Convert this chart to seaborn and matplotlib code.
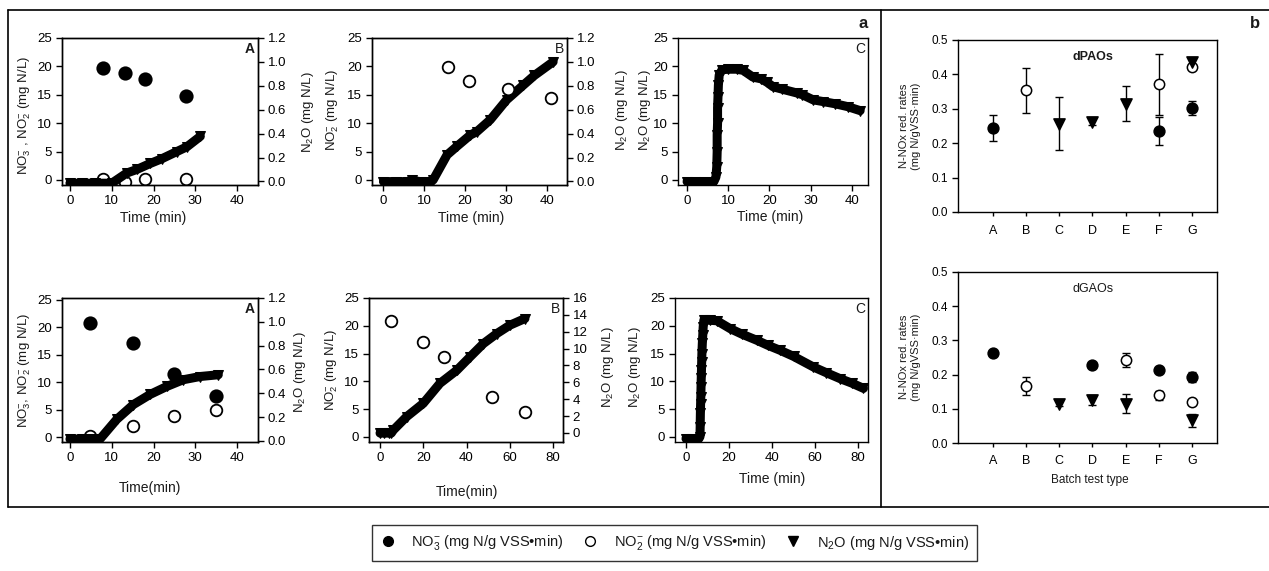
import numpy as np
import matplotlib
matplotlib.use("Agg")
import matplotlib.pyplot as plt
from matplotlib.lines import Line2D
from matplotlib.patches import Rectangle
from matplotlib.ticker import FormatStrFormatter
import seaborn as sns

sns.set_theme(style="ticks", context="paper")
plt.rcParams['font.family'] = ['Liberation Sans', 'DejaVu Sans']
plt.rcParams['mathtext.fontset'] = 'custom'
plt.rcParams['mathtext.rm'] = 'Liberation Sans'
plt.rcParams['mathtext.it'] = 'Liberation Sans:italic'
plt.rcParams['mathtext.bf'] = 'Liberation Sans:bold'
plt.rcParams['axes.edgecolor'] = 'black'
plt.rcParams['axes.linewidth'] = 1.0
plt.rcParams['xtick.color'] = 'black'
plt.rcParams['ytick.color'] = 'black'
plt.rcParams['text.color'] = '#1a1a1a'

# ---------------- data: panel a, top row (time in min, mg N/L) ----------------
top_a_t_no3 = [8.0, 13.2, 18.0, 27.8]
top_a_no3 = [19.7, 18.9, 17.7, 14.7]
top_a_t_no2 = [8.0, 13.2, 18.0, 27.8]
top_a_no2 = [0.2, -0.3, 0.2, 0.2]
top_a_t_n2o = [0, 3, 6, 10, 13.6, 16, 19.2, 22, 25.6, 28, 31.2]
top_a_n2o = [-0.015, -0.015, -0.015, -0.015, 0.07, 0.10, 0.15, 0.19, 0.25, 0.29, 0.377]

top_b_t_no2 = [15.9, 21.0, 30.6, 41.1]
top_b_no2 = [19.9, 17.4, 16.0, 14.5]
top_b_t_n2o = [0, 3, 6, 7, 9, 11.5, 12.2, 15.6, 18.0, 21.3, 22.9, 26.2, 30.2, 34.3, 37.0, 41.6]
top_b_n2o = [-0.3, -0.3, -0.3, -0.1, -0.3, -0.3, 0.0, 4.4, 5.9, 7.9, 8.5, 10.6, 14.1, 16.7, 18.4, 20.8]

top_c_t_n2o = [0, 2, 4, 6.5, 7.0, 7.2, 7.3, 7.3, 7.4, 7.4, 7.5, 7.6, 7.8, 8.5, 10, 12,
               13.6, 16, 18, 19.4, 20.9, 23, 26.7, 28, 30.6, 33, 36, 39, 42]
top_c_n2o = [-0.3, -0.3, -0.3, -0.3, 0.5, 2.3, 4.9, 7.9, 10.0, 12.7, 14.6, 16.7, 18.5, 19.4, 19.5, 19.5,
             19.3, 18.1, 17.8, 17.2, 16.4, 16.0, 15.3, 15.0, 14.1, 13.8, 13.4, 12.9, 12.2]

# ---------------- data: panel a, bottom row ----------------
bot_a_t_no3 = [4.8, 15.1, 24.8, 35.0]
bot_a_no3 = [20.7, 17.1, 11.4, 7.5]
bot_a_t_no2 = [4.8, 15.1, 24.8, 35.0]
bot_a_no2 = [0.2, 2.0, 3.8, 5.0]
bot_a_t_n2o = [0, 3, 5, 7.2, 11.2, 15.2, 19.2, 23.2, 27.1, 31.1, 35.5]
bot_a_n2o = [0.015, 0.015, 0.015, 0.015, 0.18, 0.305, 0.39, 0.457, 0.513, 0.54, 0.555]

bot_b_t_no2 = [4.9, 19.7, 29.6, 51.6, 66.8]
bot_b_no2 = [20.9, 17.0, 14.3, 7.25, 4.55]
bot_b_t_n2o = [0, 2, 4, 5.2, 6.2, 12.3, 20, 27.7, 35.5, 41.6, 47.8, 54, 60, 67]
bot_b_n2o = [0.7, 0.7, 0.7, 0.7, 1.26, 3.65, 6.05, 9.65, 12.0, 14.4, 16.8, 18.6, 20.1, 21.3]

bot_c_t_n2o = [0, 3, 6, 6.5, 6.6, 6.7, 6.8, 6.9, 7.0, 7.1, 7.2, 7.3, 7.4, 7.6, 7.8, 8.0, 8.3,
               8.8, 11, 14.4, 20.5, 26, 32.9, 38, 43.7, 50, 59.2, 65, 71.6, 77, 82.5]
bot_c_n2o = [-0.3, -0.3, -0.3, 0.05, 1.85, 4.3, 6.0, 7.25, 9.05, 10.6, 12.05, 13.5, 15.0, 16.85, 18.3, 19.8, 21.0,
             21.0, 21.0, 20.9, 19.5, 18.5, 17.4, 16.5, 15.6, 14.5, 12.6, 11.6, 10.5, 9.7, 8.75]

# ---------------- data: panel b (mg N/g VSS.min) ----------------
cats = ["A", "B", "C", "D", "E", "F", "G"]
nan = np.nan
pao_no3 = [0.245, nan, nan, nan, nan, 0.235, 0.303]
pao_no3_err = [0.038, nan, nan, nan, nan, 0.040, 0.020]
pao_no2 = [nan, 0.354, nan, nan, nan, 0.371, 0.422]
pao_no2_err = [nan, 0.066, nan, nan, nan, 0.088, 0.0]
pao_n2o = [nan, nan, 0.257, 0.262, 0.315, nan, 0.437]
pao_n2o_err = [nan, nan, 0.077, 0.008, 0.050, nan, 0.008]

gao_no3 = [0.264, nan, nan, 0.229, nan, 0.214, 0.193]
gao_no3_err = [0.005, nan, nan, 0.005, nan, 0.005, 0.015]
gao_no2 = [nan, 0.167, nan, nan, 0.242, 0.139, 0.120]
gao_no2_err = [nan, 0.026, nan, nan, 0.020, 0.012, 0.0]
gao_n2o = [nan, nan, 0.115, 0.125, 0.115, nan, 0.066]
gao_n2o_err = [nan, nan, 0.008, 0.015, 0.027, nan, 0.020]

legend_labels = [r"NO$_3^{-}$ (mg N/g VSS•min)", r"NO$_2^{-}$ (mg N/g VSS•min)",
                 r"N$_2$O (mg N/g VSS•min)"]

W, H = 1269, 571
fig = plt.figure(figsize=(W / 100, H / 100), dpi=100)
fig.patch.set_facecolor("white")


def px_axes(l, t, r, b):
    return fig.add_axes([l / W, 1 - b / H, (r - l) / W, (b - t) / H])


def px_text(x, y, s, **kw):
    kw.setdefault("ha", "center")
    kw.setdefault("va", "center")
    fig.text(x / W, 1 - y / H, s, **kw)


def px_line(x0, y0, x1, y1, lw=1.2):
    fig.add_artist(Line2D([x0 / W, x1 / W], [1 - y0 / H, 1 - y1 / H], transform=fig.transFigure,
                          color="black", linewidth=lw))


def trace(ax, t, v):
    sns.lineplot(x=t, y=v, ax=ax, color="black", lw=6.5, marker="v", markersize=7,
                 markeredgecolor="black", estimator=None, sort=False, zorder=3)


def points(ax, t, v, filled, s=80):
    sns.scatterplot(x=t, y=v, ax=ax, marker="o", s=s, color="black" if filled else "white",
                    edgecolor="black", linewidth=1.3, zorder=4)


def time_axis(ax, xlim, xticks, ylim):
    ax.set_xlim(xlim)
    ax.set_xticks(xticks)
    ax.set_ylim(ylim)
    ax.set_yticks([0, 5, 10, 15, 20, 25])
    ax.tick_params(direction="out", length=4, width=1, labelsize=9.5, pad=3)
    for sp in ax.spines.values():
        sp.set_visible(True)


def right_axis(ax, ylim, ticks, fmt):
    tw = ax.twinx()
    tw.set_ylim(ylim)
    tw.set_yticks(ticks)
    tw.yaxis.set_major_formatter(FormatStrFormatter(fmt))
    tw.tick_params(direction="out", length=4, width=1, labelsize=9.5, pad=3)
    return tw


ticks12 = [0.0, 0.2, 0.4, 0.6, 0.8, 1.0, 1.2]
lab_kw = dict(rotation=90, fontsize=9.5)

# ---- top A
ax = px_axes(62, 38, 258, 185)
points(ax, top_a_t_no3, top_a_no3, True)
points(ax, top_a_t_no2, top_a_no2, False, s=70)
time_axis(ax, (-1.9, 45), [0, 10, 20, 30, 40], (-0.9, 25))
tw = right_axis(ax, (-0.03, 1.2), ticks12, "%.1f")
trace(tw, top_a_t_n2o, top_a_n2o)
ax.text(0.985, 0.97, "A", transform=ax.transAxes, ha="right", va="top", fontsize=10, fontweight="bold")
px_text(25, 116, r"NO$_3^{-}$ , NO$_2^{-}$ (mg N/L)", **lab_kw)
px_text(153, 218, "Time (min)", fontsize=10)

# ---- top B
ax = px_axes(372, 38, 567, 185)
trace(ax, top_b_t_n2o, top_b_n2o)
points(ax, top_b_t_no2, top_b_no2, False, s=70)
time_axis(ax, (-2.8, 45), [0, 10, 20, 30, 40], (-0.9, 25))
right_axis(ax, (-0.03, 1.2), ticks12, "%.1f")
ax.text(0.985, 0.97, "B", transform=ax.transAxes, ha="right", va="top", fontsize=10)
px_text(308, 112, r"N$_2$O (mg N/L)", **lab_kw)
px_text(333, 110, r"NO$_2^{-}$ (mg N/L)", **lab_kw)
px_text(471, 218, "Time (min)", fontsize=10)

# ---- top C
ax = px_axes(678, 38, 868, 185)
trace(ax, top_c_t_n2o, top_c_n2o)
time_axis(ax, (-2.2, 43.9), [0, 10, 20, 30, 40], (-0.9, 25))
ax.text(0.985, 0.97, "C", transform=ax.transAxes, ha="right", va="top", fontsize=10)
px_text(622, 110, r"N$_2$O (mg N/L)", **lab_kw)
px_text(645, 110, r"N$_2$O (mg N/L)", **lab_kw)
px_text(770, 217, "Time (min)", fontsize=10)

# ---- bottom A
ax = px_axes(62, 298, 258, 442)
points(ax, bot_a_t_no3, bot_a_no3, True)
points(ax, bot_a_t_no2, bot_a_no2, False, s=70)
time_axis(ax, (-1.9, 45), [0, 10, 20, 30, 40], (-0.9, 25.3))
tw = right_axis(ax, (-0.01, 1.2), ticks12, "%.1f")
trace(tw, bot_a_t_n2o, bot_a_n2o)
ax.text(0.985, 0.97, "A", transform=ax.transAxes, ha="right", va="top", fontsize=10, fontweight="bold")
px_text(25, 370, r"NO$_3^{-}$, NO$_2^{-}$ (mg N/L)", **lab_kw)
px_text(300, 372, r"N$_2$O (mg N/L)", **lab_kw)
px_text(150, 488, "Time(min)", fontsize=10)

# ---- bottom B
ax = px_axes(369, 298, 563, 442)
trace(ax, bot_b_t_n2o, bot_b_n2o)
points(ax, bot_b_t_no2, bot_b_no2, False, s=70)
time_axis(ax, (-5.1, 84.6), [0, 20, 40, 60, 80], (-0.9, 25))
right_axis(ax, (-1.07, 16), [0, 2, 4, 6, 8, 10, 12, 14, 16], "%d")
ax.text(0.985, 0.97, "B", transform=ax.transAxes, ha="right", va="top", fontsize=10)
px_text(332, 370, r"NO$_2^{-}$ (mg N/L)", **lab_kw)
px_text(467, 492, "Time(min)", fontsize=10)

# ---- bottom C
ax = px_axes(675, 298, 868, 442)
trace(ax, bot_c_t_n2o, bot_c_n2o)
time_axis(ax, (-5.1, 84.6), [0, 20, 40, 60, 80], (-0.9, 25))
ax.text(0.985, 0.97, "C", transform=ax.transAxes, ha="right", va="top", fontsize=10)
px_text(608, 367, r"N$_2$O (mg N/L)", **lab_kw)
px_text(635, 367, r"N$_2$O (mg N/L)", **lab_kw)
px_text(772, 479, "Time (min)", fontsize=10)


# ---- panel b
def rates(ax, series, title, bold):
    pos = np.arange(len(cats))
    for vals, errs, mk, fc, s in series:
        ax.errorbar(pos, vals, yerr=errs, fmt="none", ecolor="black", elinewidth=1, capsize=3, capthick=1, zorder=2)
        sns.scatterplot(x=pos, y=vals, ax=ax, marker=mk, s=s, color=fc, edgecolor="black", linewidth=1.1, zorder=3)
    ax.set_xlim(-1.05, 6.75)
    ax.set_ylim(0, 0.5)
    ax.set_xticks(pos)
    ax.set_xticklabels(cats)
    ax.set_yticks([0.0, 0.1, 0.2, 0.3, 0.4, 0.5])
    ax.yaxis.set_major_formatter(FormatStrFormatter("%.1f"))
    ax.tick_params(axis="y", direction="out", length=4, width=1, labelsize=8.5, pad=3)
    ax.tick_params(axis="x", direction="out", length=3, width=1, labelsize=9, pad=6)
    for sp in ax.spines.values():
        sp.set_visible(True)
    ax.text(0.52, 0.9, title, transform=ax.transAxes, ha="center", va="center", fontsize=9,
            fontweight="bold" if bold else "normal")


axb1 = px_axes(958, 40, 1217, 212)
rates(axb1, [(pao_no3, pao_no3_err, "o", "black", 60),
             (pao_no2, pao_no2_err, "o", "white", 55),
             (pao_n2o, pao_n2o_err, "v", "black", 65)], "dPAOs", True)
axb2 = px_axes(958, 272, 1217, 443)
rates(axb2, [(gao_no3, gao_no3_err, "o", "black", 60),
             (gao_no2, gao_no2_err, "o", "white", 55),
             (gao_n2o, gao_n2o_err, "v", "black", 65)], "dGAOs", False)
ylab_b = "N-NOx red. rates\n(mg N/gVSS·min)"
px_text(910, 126, ylab_b, rotation=90, fontsize=8, linespacing=1.15)
px_text(910, 357, ylab_b, rotation=90, fontsize=8, linespacing=1.15)
px_text(1090, 480, "Batch test type", fontsize=8.5)

# panel letters and frame (panel b runs off the right edge)
px_text(863, 24, "a", fontsize=12, fontweight="bold")
px_text(1255, 24, "b", fontsize=12, fontweight="bold")
px_line(8, 10, W, 10)
px_line(8, 507, W, 507)
px_line(8, 10, 8, 507)
px_line(881, 10, 881, 507)

# legend
handles = [Line2D([], [], ls="none", marker="o", ms=7, mfc="black", mec="black"),
           Line2D([], [], ls="none", marker="o", ms=7, mfc="white", mec="black"),
           Line2D([], [], ls="none", marker="v", ms=7, mfc="black", mec="black")]
leg = fig.legend(handles, legend_labels, ncol=3, loc="center", bbox_to_anchor=(674.5 / W, 1 - 543 / H),
                 frameon=True, fancybox=False, edgecolor="black", fontsize=10.5, handletextpad=1.1,
                 columnspacing=1.35, borderpad=0.6, handlelength=1.0, borderaxespad=0)
leg.get_frame().set_linewidth(1.0)

fig.savefig("out.png", dpi=100)
